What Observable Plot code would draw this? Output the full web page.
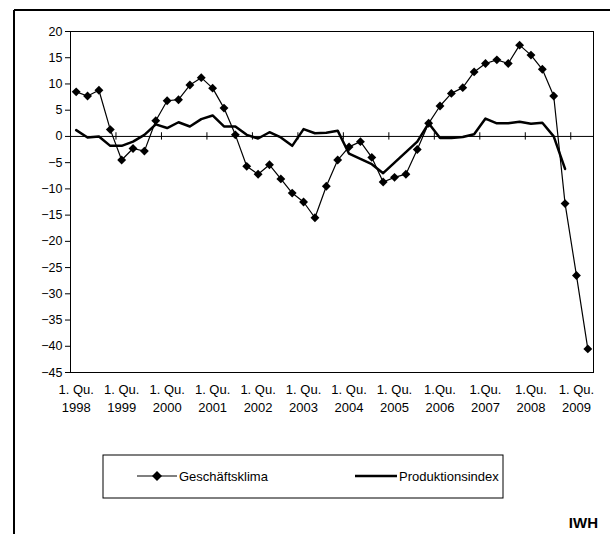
<!DOCTYPE html>
<html><head><meta charset="utf-8">
<script src="https://cdn.jsdelivr.net/npm/d3@7"></script>
<script src="https://cdn.jsdelivr.net/npm/@observablehq/plot@0.6"></script>
<style>body{margin:0;background:#fff}#chart{position:relative;width:610px;height:534px}</style>
</head><body><div id="chart"></div>
<script>
// Quartale 1998 Q1 bis 2009 Q2
const years = d3.range(1998, 2010)
const quarterLabels = years.map(y => (y >= 2006 && y <= 2008 ? "1.Qu." : "1. Qu.") + "\n" + y)
const geschaeftsklima = [8.5, 7.7, 8.8, 1.3, -4.5, -2.3, -2.8, 3, 6.8, 7, 9.8, 11.2,
  9.2, 5.4, 0.3, -5.7, -7.2, -5.4, -8.1, -10.8, -12.5, -15.5, -9.5, -4.5,
  -2, -1, -4, -8.7, -7.8, -7.2, -2.5, 2.5, 5.8, 8.2, 9.3, 12.3,
  13.9, 14.6, 13.9, 17.4, 15.5, 12.8, 7.7, -12.8, -26.5, -40.5]
const produktionsindex = [1.2, -0.2, 0, -1.8, -1.8, -1, 0.3, 2.3, 1.6, 2.7, 1.9, 3.3,
  4, 1.9, 1.9, 0.3, -0.4, 0.8, -0.2, -1.8, 1.4, 0.6, 0.7, 1.1,
  -3.3, -4.3, -5.3, -7, -5, -3, -1, 2.5, -0.3, -0.3, -0.1, 0.4,
  3.4, 2.5, 2.5, 2.8, 2.4, 2.6, 0, -6.2]

const gk = geschaeftsklima.map((v, i) => ({i, v}))
const pi = produktionsindex.map((v, i) => ({i, v}))
const boundaries = d3.range(3.5, 46, 4)

const chart = Plot.plot({
  width: 610, height: 534,
  marginLeft: 70, marginRight: 17, marginTop: 31, marginBottom: 162,
  style: {fontFamily: "Liberation Sans, Arial, sans-serif", fontSize: "12.5px", color: "#000"},
  x: {domain: [-0.5, 45.5], axis: null},
  y: {domain: [-45, 20], ticks: d3.range(-45, 21, 5), tickSize: 5, tickPadding: 3, label: null},
  marks: [
    Plot.frame({stroke: "#000"}),
    Plot.axisX(d3.range(0, 46, 4), {y: -45, tickSize: 0, tickPadding: 9, fontSize: 13, lineHeight: 1.35,
      tickFormat: (d, k) => quarterLabels[k], anchor: "bottom", label: null}),
    Plot.ruleY([0], {stroke: "#000"}),
    Plot.ruleX(boundaries, {y1: -0.7, y2: 0.7, stroke: "#000"}),
    Plot.line(pi, {x: "i", y: "v", stroke: "#000", strokeWidth: 2.5}),
    Plot.line(gk, {x: "i", y: "v", stroke: "#000", strokeWidth: 1.2}),
    Plot.dot(gk, {x: "i", y: "v", symbol: "diamond2", fill: "#000", r: 4})
  ]
})
const svg = d3.select(chart)
svg.append("line").attr("x1", 14).attr("x2", 610).attr("y1", 10).attr("y2", 10).attr("stroke", "#000").attr("stroke-width", 2)
svg.append("line").attr("x1", 14).attr("x2", 14).attr("y1", 10).attr("y2", 534).attr("stroke", "#000").attr("stroke-width", 2)
const lg = svg.append("g").attr("font-family", "Liberation Sans, Arial, sans-serif").attr("font-size", 13).attr("text-anchor", "start")
lg.append("rect").attr("x", 103).attr("y", 455).attr("width", 400).attr("height", 43).attr("fill", "none").attr("stroke", "#000")
lg.append("line").attr("x1", 137).attr("x2", 177).attr("y1", 476).attr("y2", 476).attr("stroke", "#000").attr("stroke-width", 1.2)
lg.append("path").attr("d", "M157,471L162,476L157,481L152,476Z").attr("fill", "#000")
lg.append("text").attr("x", 179).attr("y", 481).text("Geschäftsklima")
lg.append("line").attr("x1", 355).attr("x2", 397).attr("y1", 476).attr("y2", 476).attr("stroke", "#000").attr("stroke-width", 2.5)
lg.append("text").attr("x", 399).attr("y", 481).text("Produktionsindex")
lg.append("text").attr("x", 598).attr("y", 528).attr("text-anchor", "end").attr("font-weight", "bold").attr("font-size", 15).text("IWH")
d3.select("#chart").append(() => chart)
</script></body></html>
